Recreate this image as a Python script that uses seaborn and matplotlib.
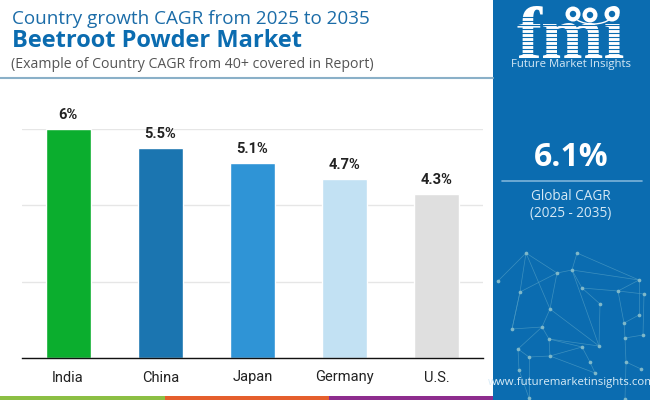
import matplotlib
matplotlib.use("Agg")
import matplotlib.pyplot as plt
from matplotlib.patches import Rectangle, Circle, Arc
import pandas as pd
import seaborn as sns

# data
countries = ["India", "China", "Japan", "Germany", "U.S."]
cagr = [6.0, 5.5, 5.1, 4.7, 4.3]
value_labels = ["6%", "5.5%", "5.1%", "4.7%", "4.3%"]
bar_colors = ["#0bae2e", "#1b75b0", "#2f94d6", "#c2e1f3", "#dfdfdf"]
y_ticks = [0, 2, 4, 6]

# network decoration in the side panel (pixels)
net_nodes = [(526, 253), (577, 253), (557, 273), (572, 270), (639, 280), (618, 291), (582, 288),
             (644, 294), (520, 292), (498, 281), (600, 304), (550, 309), (639, 315), (624, 323),
             (542, 327), (512, 329), (643, 335), (625, 338), (549, 339), (599, 346), (582, 347),
             (518, 349), (529, 357), (550, 356), (590, 362), (626, 362), (641, 369), (519, 370),
             (595, 373), (529, 398), (625, 399)]
net_links = [(0, 8), (0, 2), (0, 11), (0, 9), (1, 4), (1, 3), (2, 3), (2, 8), (2, 11), (3, 4), (3, 6),
             (3, 19), (6, 5), (5, 4), (5, 7), (5, 13), (6, 10), (10, 19), (11, 14), (11, 19), (14, 15),
             (14, 18), (14, 21), (15, 8), (18, 19), (18, 23), (18, 20), (20, 23), (20, 24), (24, 28),
             (21, 22), (22, 23), (21, 27), (27, 29), (22, 29), (13, 12), (13, 17), (17, 16), (17, 25),
             (25, 26), (25, 30), (12, 4), (16, 7), (8, 15), (23, 28)]

PANEL = "#0b6cb0"
W, H = 650, 400

sns.set_theme(style="white")
plt.rcParams["font.family"] = ["Roboto", "DejaVu Sans"]

fig = plt.figure(figsize=(6.5, 4.0), dpi=100, facecolor="white")

# bar chart
ax = fig.add_axes([22 / W, 1 - 358 / H, 461 / W, 229 / H])
df = pd.DataFrame({"country": countries, "cagr": cagr})
sns.barplot(data=df, x="country", y="cagr", hue="country", palette=bar_colors,
            width=0.488, legend=False, saturation=1, ax=ax)
ax.set_xlim(-0.5, 4.5)
ax.set_ylim(0, 6)
ax.set_yticks(y_ticks)
ax.set_yticklabels([])
ax.tick_params(axis="y", length=0)
ax.tick_params(axis="x", length=0, pad=9, labelsize=10.5, labelcolor="#222222")
ax.set_xlabel("")
ax.set_ylabel("")
ax.grid(axis="y", color="#e6e6e6", lw=1)
ax.set_axisbelow(True)
for s in ["top", "left", "right"]:
    ax.spines[s].set_visible(False)
ax.spines["bottom"].set_color("#111111")
ax.spines["bottom"].set_linewidth(1)
for i, lab in enumerate(value_labels):
    ax.annotate(lab, (i, cagr[i]), xytext=(0, 5), textcoords="offset points", ha="center", va="bottom",
                fontsize=10.5, fontweight="bold", color="#222222", annotation_clip=False)

# overlay in pixel coordinates
ov = fig.add_axes([0, 0, 1, 1], zorder=5)
ov.set_xlim(0, W)
ov.set_ylim(H, 0)
ov.axis("off")

ov.text(12, 19, "Country growth CAGR from 2025 to 2035", fontsize=13.6, color="#1b6ca8",
        family="Open Sans", va="center")
ov.text(12, 41, "Beetroot Powder Market", fontsize=17, color="#0b6cb0", family="Open Sans",
        fontweight="bold", va="center")
ov.text(11, 64, "(Example of Country CAGR from 40+ covered in Report)", fontsize=10.2, color="#555555",
        family="Open Sans", va="center")
ov.plot([0, 493], [78, 78], color="#8ab0c8", lw=1.5)

# bottom stripe
ov.add_patch(Rectangle((0, 396), 165, 4, color="#8cbf44", lw=0))
ov.add_patch(Rectangle((165, 396), 164, 4, color="#e55f2d", lw=0))
ov.add_patch(Rectangle((329, 396), 164, 4, color="#8e2d8e", lw=0))

# side panel
ov.add_patch(Rectangle((493, 0), 157, 400, color=PANEL, lw=0))
for a, b in net_links:
    ov.plot([net_nodes[a][0], net_nodes[b][0]], [net_nodes[a][1], net_nodes[b][1]],
            color="#4d9cc4", lw=0.5, alpha=0.75)
ov.scatter([p[0] for p in net_nodes], [p[1] for p in net_nodes], s=7, color="#7fb8c9", lw=0, zorder=3)

# logo
ov.text(571, 58, "fmi", fontsize=54, family="Liberation Serif", fontweight="bold", color="white",
        ha="center", va="baseline")
for y in range(16, 56, 4):
    ov.plot([512, 630], [y + 0.5, y + 0.5], color=PANEL, lw=0.8, zorder=4)
for cx, cy in [(573, 14), (590, 15), (612, 14)]:
    ov.add_patch(Circle((cx, cy), 7.5, color="white", lw=0, zorder=5))
    ov.add_patch(Circle((cx, cy), 3.2, color=PANEL, lw=0, zorder=5))
ov.add_patch(Arc((593, 11), 44, 26, theta1=25, theta2=150, color="white", lw=1, zorder=5))
ov.text(571, 64, "Future Market Insights", fontsize=8.2, color="#d5e8f5", family="Open Sans",
        ha="center", va="center", zorder=5)

ov.text(571, 157, "6.1%", fontsize=23, color="white", family="Open Sans", fontweight="bold",
        ha="center", va="center")
ov.plot([502, 642], [181, 181], color="#7db3da", lw=1.2)
ov.text(571, 197, "Global CAGR", fontsize=9.8, color="#d5e8f5", family="Open Sans", ha="center", va="center")
ov.text(571, 213, "(2025 - 2035)", fontsize=9.8, color="#d5e8f5", family="Open Sans", ha="center", va="center")
ov.text(572, 383, "www.futuremarketinsights.com", fontsize=8.2, color="#d9ecf7", family="Open Sans",
        ha="center", va="center", zorder=5)

fig.savefig("out.png", dpi=100)
